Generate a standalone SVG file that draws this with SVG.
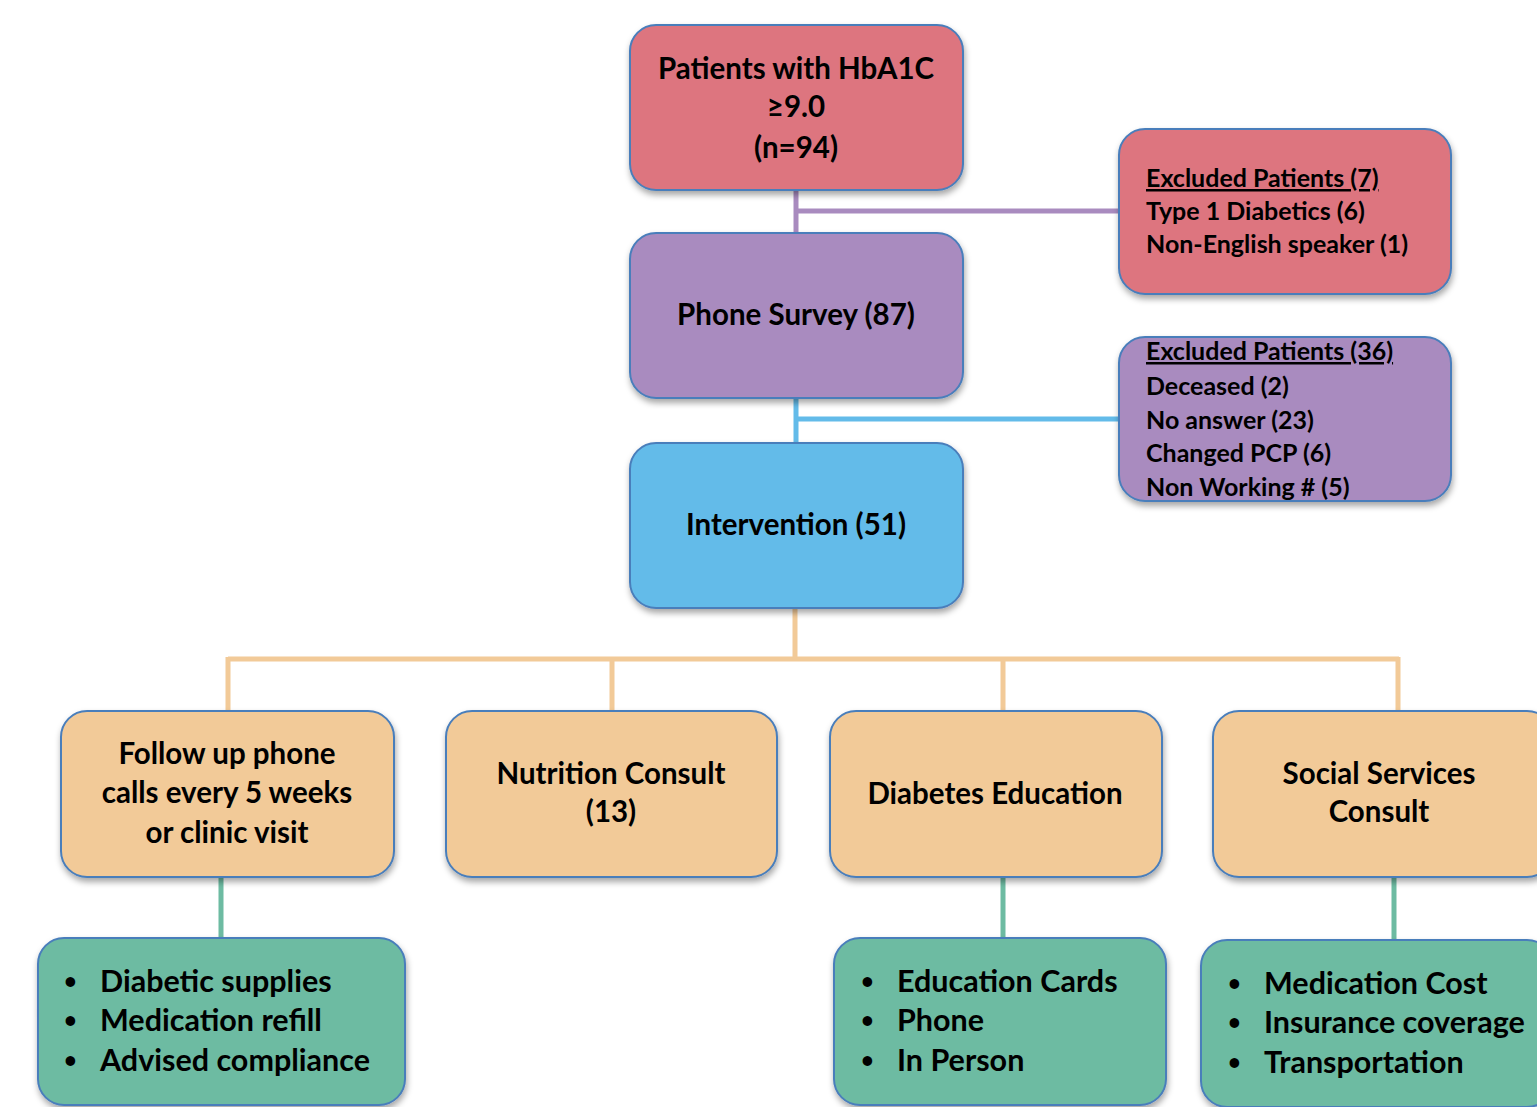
<svg xmlns="http://www.w3.org/2000/svg" width="1537" height="1107" viewBox="0 0 1537 1107">
<defs>
<filter id="sh" x="-10%" y="-10%" width="120%" height="130%">
<feDropShadow dx="1" dy="4" stdDeviation="3" flood-color="#000" flood-opacity="0.35"/>
</filter>
<style>
.box{stroke:#4A7EBB;stroke-width:2;filter:url(#sh)}
.red{fill:#DD747F}.pur{fill:#A98BBF}.blu{fill:#63BBE9}.ora{fill:#F2CA98}.grn{fill:#6DBBA2}
text{font-family:Lato,"Open Sans","Liberation Sans",sans-serif;font-weight:bold;fill:#000}
.c{text-anchor:middle;font-size:29.5px}
.s{font-size:25px}
.b{font-size:30.5px}
.d{font-size:22px}
.ln{fill:none;stroke-width:5}
</style>
</defs>
<rect width="1537" height="1107" fill="#fff"/>
<g id="connectors">
<path class="ln" stroke="#A98BBF" d="M796 190V233M796 211H1120"/>
<path class="ln" stroke="#63BBE9" d="M796 398V443M796 419H1120"/>
<path class="ln" stroke="#F2CA98" d="M795 608V659M228 659H1399M228 657V711M612 657V711M1003 657V711M1398 657V711"/>
<path class="ln" stroke="#6DBBA2" d="M221 877V938M1003 877V938M1394 877V940"/>
</g>
<g id="n1"><rect class="box red" x="630" y="25" width="333" height="165" rx="26"/>
<text class="c" x="796" y="79">Patients with HbA1C</text><text class="c" x="796" y="117">≥9.0</text><text class="c" x="796" y="158">(n=94)</text></g>
<g id="n2"><rect class="box pur" x="630" y="233" width="333" height="165" rx="26"/>
<text class="c" x="796" y="325">Phone Survey (87)</text></g>
<g id="n3"><rect class="box blu" x="630" y="443" width="333" height="165" rx="26"/>
<text class="c" x="796" y="535">Intervention (51)</text></g>
<g id="ex1"><rect class="box red" x="1119" y="129" width="332" height="165" rx="26"/>
<text class="s" x="1146" y="187" text-decoration="underline">Excluded Patients (7)</text>
<text class="s" x="1146" y="220">Type 1 Diabetics (6)</text>
<text class="s" x="1146" y="253">Non-English speaker (1)</text></g>
<g id="ex2"><rect class="box pur" x="1119" y="337" width="332" height="164" rx="26"/>
<text class="s" x="1146" y="360" text-decoration="underline">Excluded Patients (36)</text>
<text class="s" x="1146" y="395">Deceased (2)</text>
<text class="s" x="1146" y="429">No answer (23)</text>
<text class="s" x="1146" y="462">Changed PCP (6)</text>
<text class="s" x="1146" y="496">Non Working # (5)</text></g>
<g id="o1"><rect class="box ora" x="61" y="711" width="333" height="166" rx="26"/>
<text class="c" x="227" y="764">Follow up phone</text><text class="c" x="227" y="803">calls every 5 weeks</text><text class="c" x="227" y="843">or clinic visit</text></g>
<g id="o2"><rect class="box ora" x="446" y="711" width="331" height="166" rx="26"/>
<text class="c" x="611" y="784">Nutrition Consult</text><text class="c" x="611" y="822">(13)</text></g>
<g id="o3"><rect class="box ora" x="830" y="711" width="332" height="166" rx="26"/>
<text class="c" x="995" y="804">Diabetes Education</text></g>
<g id="o4"><rect class="box ora" x="1213" y="711" width="340" height="166" rx="26"/>
<text class="c" x="1379" y="784">Social Services</text><text class="c" x="1379" y="822">Consult</text></g>
<g id="g1"><rect class="box grn" x="38" y="938" width="367" height="167" rx="26"/>
<text class="d" x="64" y="989">•</text><text class="b" x="100" y="992">Diabetic supplies</text>
<text class="d" x="64" y="1028">•</text><text class="b" x="100" y="1031">Medication refill</text>
<text class="d" x="64" y="1068">•</text><text class="b" x="100" y="1071">Advised compliance</text></g>
<g id="g3"><rect class="box grn" x="834" y="938" width="332" height="167" rx="26"/>
<text class="d" x="861" y="989">•</text><text class="b" x="897" y="992">Education Cards</text>
<text class="d" x="861" y="1028">•</text><text class="b" x="897" y="1031">Phone</text>
<text class="d" x="861" y="1068">•</text><text class="b" x="897" y="1071">In Person</text></g>
<g id="g4"><rect class="box grn" x="1201" y="940" width="352" height="167" rx="26"/>
<text class="d" x="1228" y="991">•</text><text class="b" x="1264" y="994">Medication Cost</text>
<text class="d" x="1228" y="1030">•</text><text class="b" x="1264" y="1033">Insurance coverage</text>
<text class="d" x="1228" y="1070">•</text><text class="b" x="1264" y="1073">Transportation</text></g>
</svg>
